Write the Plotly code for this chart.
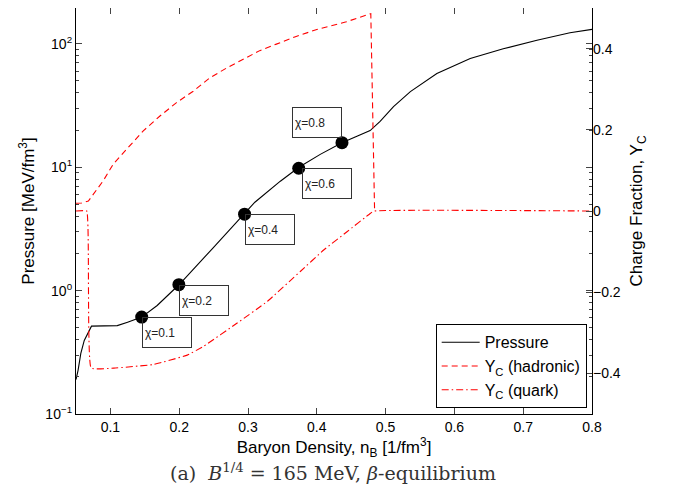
import math
import plotly.graph_objects as go

# pressure vs baryon density (left axis, log)
n_p = [0.050, 0.053, 0.057, 0.062, 0.0725, 0.090, 0.110, 0.125, 0.1455, 0.168, 0.200, 0.248,
       0.295, 0.310, 0.347, 0.374, 0.405, 0.4365, 0.460, 0.4775, 0.492, 0.5115,
       0.536, 0.5745, 0.623, 0.671, 0.720, 0.768, 0.800]
pressure = [0.19, 0.226, 0.31, 0.395, 0.515, 0.515, 0.52, 0.555, 0.61, 0.757, 1.12, 2.18,
            4.16, 5.2, 7.7, 10.0, 12.7, 15.8, 18.0, 19.8, 23.5, 31.0,
            41.0, 57.5, 76.0, 91.0, 107.0, 123.0, 131.0]

# charge fraction, hadronic phase (right axis)
n_h = [0.050, 0.0583, 0.068, 0.0776, 0.0898, 0.1043, 0.1236, 0.1478, 0.172, 0.1961, 0.2204,
       0.2445, 0.2687, 0.293, 0.317, 0.3413, 0.370, 0.400, 0.443, 0.4785, 0.484]
yc_had = [0.019, 0.0196, 0.0245, 0.0465, 0.075, 0.116, 0.153, 0.1975, 0.234, 0.267, 0.295,
          0.328, 0.352, 0.373, 0.395, 0.411, 0.430, 0.447, 0.466, 0.486, 0.0]

# charge fraction, quark phase (right axis)
n_q = [0.050, 0.0655, 0.072, 0.105, 0.163, 0.2117, 0.2357, 0.2843, 0.3278, 0.376, 0.410,
       0.4439, 0.4777, 0.484, 0.800]
yc_quark = [0.0, 0.0, -0.387, -0.387, -0.378, -0.355, -0.333, -0.276, -0.223, -0.149, -0.096,
            -0.051, -0.006, 0.0, 0.0]

# mixing fraction markers
chi_n = [0.1455, 0.1995, 0.295, 0.3737, 0.4366]
chi_p = [0.61, 1.117, 4.16, 9.8, 15.8]
chi_labels = ['χ=0.1', 'χ=0.2', 'χ=0.4', 'χ=0.6', 'χ=0.8']

# tick labels
x_ticks = [0.1, 0.2, 0.3, 0.4, 0.5, 0.6, 0.7, 0.8]
p_ticks = [0.1, 1, 10, 100]
p_ticktext = ['10<sup>−1</sup>', '10<sup>0</sup>', '10<sup>1</sup>', '10<sup>2</sup>']
p_minor = [m * d for d in [0.1, 1, 10, 100] for m in range(2, 10)]
yc_ticks = [-0.4, -0.2, 0, 0.2, 0.4]
yc_ticktext = ['−0.4', '−0.2', '0', '0.2', '0.4']

fig = go.Figure()
fig.add_trace(go.Scatter(x=n_p, y=pressure, mode='lines', name='Pressure',
                         line=dict(color='black', width=1.1)))
fig.add_trace(go.Scatter(x=n_h, y=yc_had, mode='lines', name='Y<sub>C</sub> (hadronic)',
                         yaxis='y2', line=dict(color='red', width=1.1, dash='6px,4px')))
fig.add_trace(go.Scatter(x=n_q, y=yc_quark, mode='lines', name='Y<sub>C</sub> (quark)',
                         yaxis='y2', line=dict(color='red', width=1.1, dash='7px,3px,1.5px,3px',
                                               shape='spline', smoothing=0.3)))
fig.add_trace(go.Scatter(x=chi_n, y=chi_p, mode='markers', showlegend=False,
                         marker=dict(color='black', size=13)))

for i in range(len(chi_n)):
    if i == len(chi_n) - 1:
        xa, ya, ys = 'right', 'bottom', 5
    else:
        xa, ya, ys = 'left', 'top', 0
    xs = 3 if i == 3 else 0
    fig.add_annotation(x=chi_n[i], y=math.log10(chi_p[i]), text=chi_labels[i],
                       showarrow=False, xanchor=xa, yanchor=ya, xshift=xs, yshift=ys,
                       width=44, height=25, align='left', borderpad=2, borderwidth=1,
                       bordercolor='#333', bgcolor='rgba(0,0,0,0)',
                       font=dict(size=12, color='#222'))

fig.add_annotation(x=0.498, y=-0.143, xref='paper', yref='paper', showarrow=False,
                   yanchor='middle',
                   text='(a)\u00a0\u00a0<i>B</i><sup>1/4</sup>\u00a0=\u00a0165 MeV, <i>β</i>-equilibrium',
                   font=dict(family='DejaVu Serif', size=19, color='#333'))

# page body keeps an 8px margin, so the figure is sized to fit the window
fig.update_layout(
    width=665, height=483,
    margin=dict(l=68, r=81, t=0, b=77),
    paper_bgcolor='white', plot_bgcolor='white',
    font=dict(family='Liberation Sans', size=14, color='black'),
    xaxis=dict(range=[0.05, 0.8], tickvals=x_ticks, automargin=False,
               ticks='inside', ticklen=6, showline=True, linecolor='black', linewidth=1.2,
               mirror='ticks', showgrid=False, zeroline=False,
               title=dict(text='Baryon Density, n<sub>B</sub> [1/fm<sup>3</sup>]', standoff=0)),
    yaxis=dict(type='log', range=[-1, 2.29], tickvals=p_ticks, ticktext=p_ticktext,
               automargin=False,
               ticks='inside', ticklen=6, showline=True, linecolor='black', linewidth=1.2,
               mirror='ticks', showgrid=False,
               minor=dict(tickmode='array', tickvals=p_minor, ticks='inside', ticklen=3,
                          showgrid=False),
               title=dict(text='Pressure [MeV/fm<sup>3</sup>]', standoff=6)),
    yaxis2=dict(overlaying='y', side='right', range=[-0.5, 0.5], automargin=False,
                tickvals=yc_ticks, ticktext=yc_ticktext,
                ticks='inside', ticklen=6, showgrid=False, zeroline=False,
                title=dict(text='Charge Fraction, Y<sub>C</sub>', standoff=10)),
    legend=dict(x=0.9897, y=0.014, xanchor='right', yanchor='bottom',
                bgcolor='white', bordercolor='black', borderwidth=1,
                itemwidth=38, font=dict(size=16)),
)

fig.write_html("out.html")
